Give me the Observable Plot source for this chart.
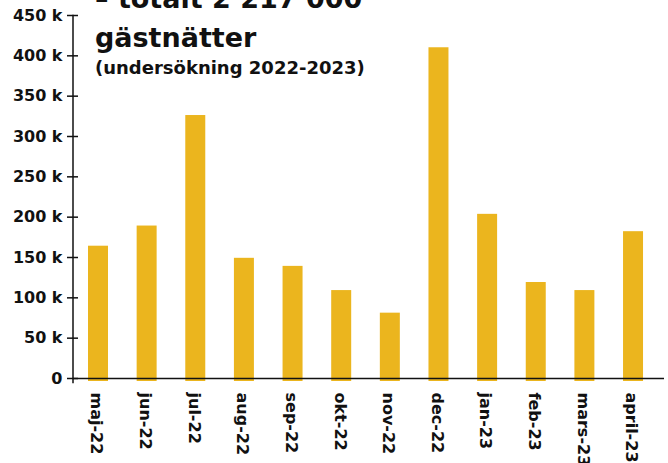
<!DOCTYPE html>
<html><head><meta charset="utf-8">
<script src="https://cdn.jsdelivr.net/npm/d3@7"></script>
<script src="https://cdn.jsdelivr.net/npm/@observablehq/plot@0.6"></script>
<style>
body{margin:0;background:#fff;}
#wrap{position:relative;width:668px;height:463px;overflow:hidden;font-family:"DejaVu Sans",sans-serif;}
#title{position:absolute;left:95px;top:-21px;font-weight:bold;font-size:27px;line-height:39px;color:#111;white-space:nowrap;}
#sub{position:absolute;left:95px;top:59px;font-weight:bold;font-size:18px;line-height:18px;color:#111;white-space:nowrap;}
</style></head><body>
<div id="wrap"><div id="chart"></div><div id="title">– totalt 2 217 000<br>gästnätter</div><div id="sub">(undersökning 2022-2023)</div></div>
<script>
const months = ["maj-22","jun-22","jul-22","aug-22","sep-22","okt-22","nov-22","dec-22","jan-23","feb-23","mars-23","april-23"];
const guestNights = [164000,189000,326000,149000,139000,109000,81000,410000,203500,119000,109000,182000];
const yTicks = [0,50000,100000,150000,200000,250000,300000,350000,400000,450000];
const data = months.map((m,i)=>({month:m, value:guestNights[i]}));
const fmt = d => d === 0 ? "0" : `${d/1000} k`;
const chart = Plot.plot({
  width:668, height:463, marginTop:15, marginBottom:85, marginLeft:72.5, marginRight:4,
  style:{fontFamily:"DejaVu Sans", fontWeight:"bold", fontSize:"16px", color:"#111", background:"white"},
  x:{domain:months, paddingInner:0.589, paddingOuter:0.375, align:0.425, round:false},
  y:{domain:[0,450000]},
  marks:[
    Plot.barY(data,{x:"month", y:"value", fill:"#EBB51E", insetBottom:-3}),
    Plot.ruleY([0],{stroke:"#111", strokeWidth:1.5}),
    Plot.frame({anchor:"left", stroke:"#111", strokeWidth:1.5, insetBottom:-4}),
    Plot.axisY(yTicks,{tickFormat:fmt, tickSize:11, dx:5.5, tickPadding:5, strokeWidth:1.5, label:null}),
    Plot.axisX({tickSize:0, tickRotate:90, tickPadding:14, label:null, dx:-2})
  ]
});
document.getElementById("chart").appendChild(chart);
</script>
</body></html>
